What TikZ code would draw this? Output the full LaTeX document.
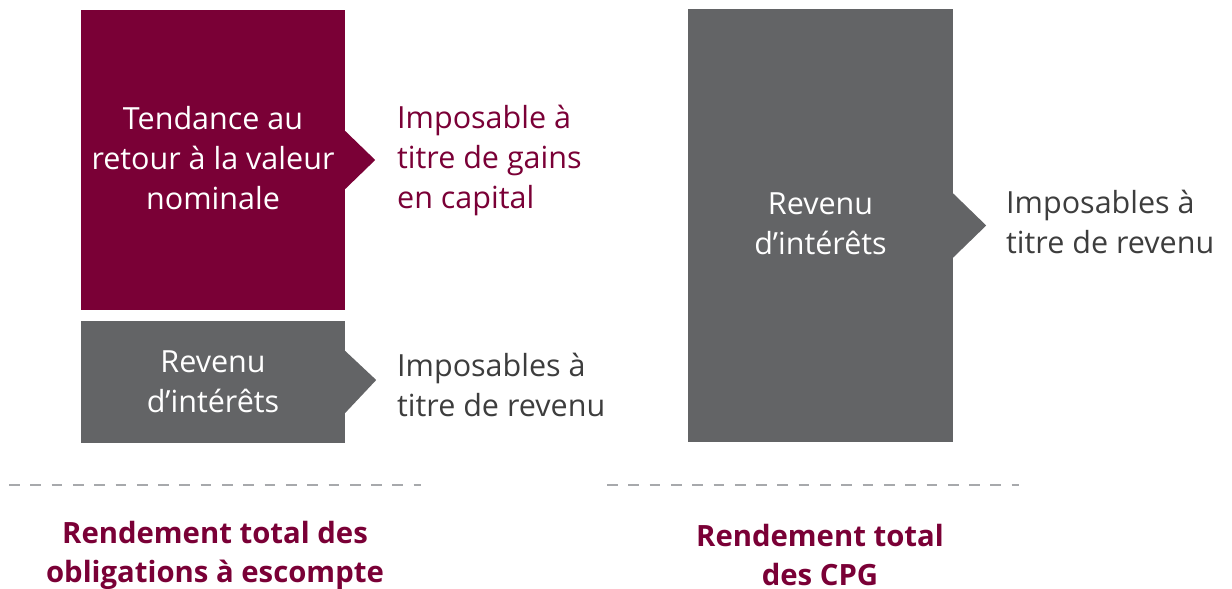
\documentclass[tikz,border=0pt]{standalone}
\usepackage{fontspec}
\setmainfont{Open Sans}
\usepackage{tikz}
\usetikzlibrary{calc}
\definecolor{maroon}{HTML}{7A0036}
\definecolor{boxgrey}{HTML}{636466}
\definecolor{textgrey}{HTML}{3D3D3D}
\definecolor{dashgrey}{HTML}{A7A9AC}
\begin{document}
\begin{tikzpicture}[x=1pt,y=-1pt]

			\tikzstyle{every node}=[font=\fontsize{30.5}{40}\selectfont]
			\tikzstyle{bloc}=[inner sep=0pt, align=center, text=white]
			\tikzstyle{etiquette}=[anchor=west, inner sep=0pt, align=left]
			\tikzstyle{titre}=[inner sep=0pt, align=center, text=maroon, font=\fontsize{29.3}{39}\selectfont\bfseries]
			\tikzstyle{tirets}=[dashgrey, line width=2.6pt, dash pattern=on 10.7pt off 10.6pt]

			\useasboundingbox (0,0) rectangle (1232,589);

			% obligations a escompte
			\node[bloc, fill=maroon, minimum width=264pt, minimum height=300pt] (gain) at (213,160) {Tendance au\\retour à la valeur\\nominale\vspace*{4pt}};
			\fill[maroon] ($(gain.east)+(-1,-30)$) -- ++(31,30) -- ++(-31,30) -- cycle;
			\node[etiquette, text=maroon] (gainimp) at (397,160) {Imposable à\\titre de gains\\en capital};

			\node[bloc, fill=boxgrey, minimum width=264pt, minimum height=122pt] (revenu) at (213,382) {Revenu\\d’intérêts};
			\fill[boxgrey] ($(revenu.east)+(-1,-32)$) -- ++(32,30) -- ++(-32,34) -- cycle;
			\node[etiquette, text=textgrey] (revenuimp) at (397,385) {Imposables à\\titre de revenu};

			% CPG
			\node[bloc, fill=boxgrey, minimum width=265pt, minimum height=433pt] (cpg) at (820.5,225.5) {Revenu\\d’intérêts\vspace*{4pt}};
			\fill[boxgrey] ($(cpg.east)+(-1,-33)$) -- ++(34,33) -- ++(-34,33) -- cycle;
			\node[etiquette, text=textgrey] (cpgimp) at (1006,222) {Imposables à\\titre de revenu};

			\coordinate (g1) at (9,485);
			\coordinate (g2) at (421,485);
			\coordinate (d1) at (607,485);
			\coordinate (d2) at (1019,485);
			\draw[tirets] (g1) -- (g2);
			\draw[tirets] (d1) -- (d2);

			\node[titre] (titreobl) at (215,555) {Rendement total des\\obligations à escompte};
			\node[titre] (titrecpg) at (820,555) {Rendement total\\des CPG};

\end{tikzpicture}
\end{document}
